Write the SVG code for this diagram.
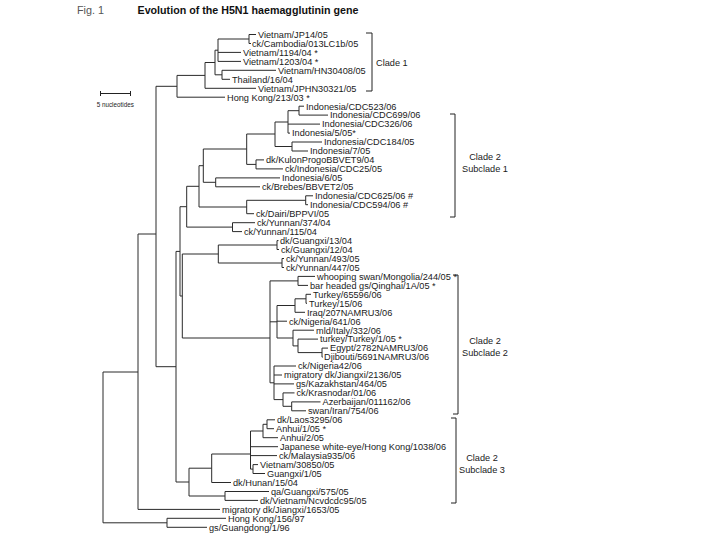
<svg xmlns="http://www.w3.org/2000/svg" width="720" height="540" viewBox="0 0 720 540">
<style>
.t{font-family:"Liberation Sans",Arial,sans-serif;font-size:9.2px;fill:#1a1a1a}
.c{text-anchor:middle}
.br{fill:none;stroke:#222;stroke-width:1}
#connectors path{fill:none;stroke:#2a2a2a;stroke-width:1}
</style>
<rect width="720" height="540" fill="#fff"/>
<g id="title">
<text x="77" y="14" style="font-family:'Liberation Sans',Arial,sans-serif;font-size:10.8px;fill:#555">Fig. 1</text>
<text x="137.5" y="14" style="font-family:'Liberation Sans',Arial,sans-serif;font-size:10.7px;font-weight:bold;fill:#111">Evolution of the H5N1 haemagglutinin gene</text>
</g>
<g id="scale">
<path class="br" d="M100.5 93.5H130.5M100.5 91V96M130.5 91V96"/>
<text x="96.7" y="106.5" style="font-family:'Liberation Sans',Arial,sans-serif;font-size:6.3px;fill:#222">5 nucleotides</text>
</g>
<g id="connectors">
<path d="M103 372V522.8M103 372H138M103 522.8H167M167 518.3V527.3M167 518.3H226M167 527.3H207M138 234V509.4M138 509.4H220M138 234H156M156 86.3V366.7M156 86.3H177M156 366.7H176"/>
<path d="M177 75.4V97.2M177 97.2H225M177 75.4H205M205 62.5V88.3M205 88.3H256M205 62.5H215M215 50.2V74.8M215 50.2H218M215 74.8H222M218 39V61.4M218 39H249M218 52.4H241M218 61.4H241M249 34.5V43.5M249 34.5H256M249 43.5H251M222 70.3V79.3M222 70.3H276M222 79.3H230"/>
<path d="M176 251.4V482M176 251.4H180M176 482H189M180 206.7V296M180 206.7H186.7M180 296H182.3M186.7 186.3V227.1M186.7 186.3H199M186.7 227.1H232.5M199 165.7V207M199 165.7H203.3M199 207H246.7M203.3 149V182.3M203.3 149H246.7M203.3 182.3H215.7M215.7 177.9V186.8M215.7 177.9H280M215.7 186.8H260M246.7 134V164.4M246.7 134H275M246.7 164.4H256M256 159.9V168.9M256 159.9H264M256 168.9H283M275 122V146.5M275 122H288M275 146.5H292M288 110.7V133.1M288 110.7H299M288 124.1H320M288 133.1H290M299 106.2V115.1M299 106.2H304M299 115.1H328M292 142V151M292 142H322M292 151H308M246.7 200.3V213.7M246.7 200.3H305.7M246.7 213.7H254M305.7 195.8V204.7M305.7 195.8H313M305.7 204.7H308M232.5 222.7V231.6M232.5 222.7H255M232.5 231.6H242"/>
<path d="M182.3 254V338M182.3 254H218.3M182.3 338H270M218.3 245V263M218.3 245H277M218.3 263H282M277 240.6V249.5M277 240.6H278.5M277 249.5H279M282 258.5V267.5M282 258.5H284M282 267.5H284"/>
<path d="M270 280.9V382.8M270 280.9H298M270 321.8H277M270 382.8H274M298 276.4V285.4M298 276.4H315M298 285.4H308M277 305.5V338M277 305.5H295M277 321.2H287M277 338H293M295 298.8V312.3M295 298.8H306M295 312.3H305M306 294.3V303.3M306 294.3H311M306 303.3H307M293 330.2V345.9M293 330.2H314M293 345.9H298M298 339.1V352.6M298 339.1H318M298 352.6H322M322 348.1V357.1M322 348.1H328M322 357.1H322.8M274 366V399.6M274 366H296M274 375H282M274 383.9H294M274 399.6H283M283 392.9V406.3M283 392.9H294.5M283 406.3H291.7M291.7 401.9V410.8M291.7 401.9H320.5M291.7 410.8H306"/>
<path d="M189 468.2V496M189 468.2H211.7M189 496H225M211.7 454V482.5M211.7 454H250.5M211.7 482.5H231M250.5 431V469.1M250.5 431H263M250.5 446.7H278M250.5 455.6H277M250.5 469.1H253M263 424.3V437.7M263 424.3H267M263 437.7H278M267 419.8V428.7M267 419.8H275M267 428.7H274M253 464.6V473.5M253 464.6H258M253 473.5H265M225 491.5V500.4M225 491.5H269M225 500.4H258"/>
</g>
<g id="leaves">
<g id="n1"><text class="t" x="258" y="37.8">Vietnam/JP14/05</text></g>
<g id="n2"><text class="t" x="252" y="46.8">ck/Cambodia/013LC1b/05</text></g>
<g id="n3"><text class="t" x="243" y="55.7">Vietnam/1194/04 *</text></g>
<g id="n4"><text class="t" x="243" y="64.7">Vietnam/1203/04 *</text></g>
<g id="n5"><text class="t" x="278" y="73.6">Vietnam/HN30408/05</text></g>
<g id="n6"><text class="t" x="232" y="82.6">Thailand/16/04</text></g>
<g id="n7"><text class="t" x="258" y="91.6">Vietnam/JPHN30321/05</text></g>
<g id="n8"><text class="t" x="227" y="100.5">Hong Kong/213/03 *</text></g>
<g id="n9"><text class="t" x="306" y="109.5">Indonesia/CDC523/06</text></g>
<g id="n10"><text class="t" x="330" y="118.4">Indonesia/CDC699/06</text></g>
<g id="n11"><text class="t" x="322" y="127.4">Indonesia/CDC326/06</text></g>
<g id="n12"><text class="t" x="292" y="136.4">Indonesia/5/05*</text></g>
<g id="n13"><text class="t" x="324" y="145.3">Indonesia/CDC184/05</text></g>
<g id="n14"><text class="t" x="310" y="154.3">Indonesia/7/05</text></g>
<g id="n15"><text class="t" x="266" y="163.2">dk/KulonProgoBBVET9/04</text></g>
<g id="n16"><text class="t" x="285" y="172.2">ck/Indonesia/CDC25/05</text></g>
<g id="n17"><text class="t" x="282" y="181.2">Indonesia/6/05</text></g>
<g id="n18"><text class="t" x="262" y="190.1">ck/Brebes/BBVET2/05</text></g>
<g id="n19"><text class="t" x="315" y="199.1">Indonesia/CDC625/06 #</text></g>
<g id="n20"><text class="t" x="310" y="208">Indonesia/CDC594/06 #</text></g>
<g id="n21"><text class="t" x="256" y="217">ck/Dairi/BPPVI/05</text></g>
<g id="n22"><text class="t" x="257" y="226">ck/Yunnan/374/04</text></g>
<g id="n23"><text class="t" x="244" y="234.9">ck/Yunnan/115/04</text></g>
<g id="n24"><text class="t" x="280" y="243.9">dk/Guangxi/13/04</text></g>
<g id="n25"><text class="t" x="281" y="252.8">ck/Guangxi/12/04</text></g>
<g id="n26"><text class="t" x="286" y="261.8">ck/Yunnan/493/05</text></g>
<g id="n27"><text class="t" x="286" y="270.8">ck/Yunnan/447/05</text></g>
<g id="n28"><text class="t" x="317" y="279.7">whooping swan/Mongolia/244/05 *</text></g>
<g id="n29"><text class="t" x="310" y="288.7">bar headed gs/Qinghai/1A/05 *</text></g>
<g id="n30"><text class="t" x="313" y="297.6">Turkey/65596/06</text></g>
<g id="n31"><text class="t" x="309" y="306.6">Turkey/15/06</text></g>
<g id="n32"><text class="t" x="307" y="315.6">Iraq/207NAMRU3/06</text></g>
<g id="n33"><text class="t" x="289" y="324.5">ck/Nigeria/641/06</text></g>
<g id="n34"><text class="t" x="316" y="333.5">mld/Italy/332/06</text></g>
<g id="n35"><text class="t" x="320" y="342.4">turkey/Turkey/1/05 *</text></g>
<g id="n36"><text class="t" x="330" y="351.4">Egypt/2782NAMRU3/06</text></g>
<g id="n37"><text class="t" x="324" y="360.4">Djibouti/5691NAMRU3/06</text></g>
<g id="n38"><text class="t" x="298" y="369.3">ck/Nigeria42/06</text></g>
<g id="n39"><text class="t" x="284" y="378.3">migratory dk/Jiangxi/2136/05</text></g>
<g id="n40"><text class="t" x="296" y="387.2">gs/Kazakhstan/464/05</text></g>
<g id="n41"><text class="t" x="296.5" y="396.2">ck/Krasnodar/01/06</text></g>
<g id="n42"><text class="t" x="322.5" y="405.2">Azerbaijan/011162/06</text></g>
<g id="n43"><text class="t" x="308" y="414.1">swan/Iran/754/06</text></g>
<g id="n44"><text class="t" x="277" y="423.1">dk/Laos3295/06</text></g>
<g id="n45"><text class="t" x="276" y="432">Anhui/1/05 *</text></g>
<g id="n46"><text class="t" x="280" y="441">Anhui/2/05</text></g>
<g id="n47"><text class="t" x="280" y="450">Japanese white-eye/Hong Kong/1038/06</text></g>
<g id="n48"><text class="t" x="279" y="458.9">ck/Malaysia935/06</text></g>
<g id="n49"><text class="t" x="260" y="467.9">Vietnam/30850/05</text></g>
<g id="n50"><text class="t" x="267" y="476.8">Guangxi/1/05</text></g>
<g id="n51"><text class="t" x="233" y="485.8">dk/Hunan/15/04</text></g>
<g id="n52"><text class="t" x="271" y="494.8">qa/Guangxi/575/05</text></g>
<g id="n53"><text class="t" x="260" y="503.7">dk/Vietnam/Ncvdcdc95/05</text></g>
<g id="n54"><text class="t" x="222" y="512.7">migratory dk/Jiangxi/1653/05</text></g>
<g id="n55"><text class="t" x="228" y="521.6">Hong Kong/156/97</text></g>
<g id="n56"><text class="t" x="209" y="530.6">gs/Guangdong/1/96</text></g>
</g>
<g id="clades">
<g id="clade1"><path class="br" d="M366 33H372V91H366"/><text class="t" x="376" y="66">Clade 1</text></g>
<g id="sub1"><path class="br" d="M450 114H455V217H450"/><text class="t c" x="485" y="160">Clade 2</text><text class="t c" x="485" y="172">Subclade 1</text></g>
<g id="sub2"><path class="br" d="M453 275H458V414H453"/><text class="t c" x="485" y="344">Clade 2</text><text class="t c" x="485" y="356">Subclade 2</text></g>
<g id="sub3"><path class="br" d="M451 418H456V503H451"/><text class="t c" x="482" y="461">Clade 2</text><text class="t c" x="482" y="473">Subclade 3</text></g>
</g>
</svg>
